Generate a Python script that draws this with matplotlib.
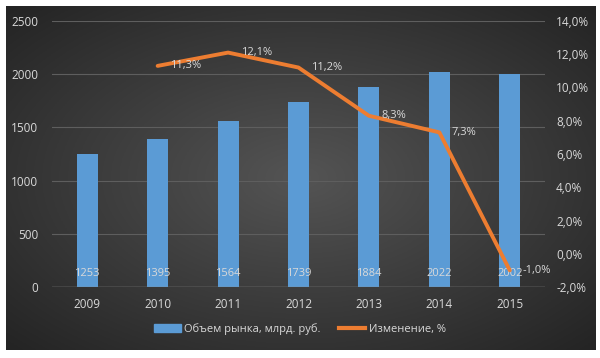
import numpy as np
import matplotlib
matplotlib.use("Agg")
import matplotlib.pyplot as plt
from matplotlib.lines import Line2D
from matplotlib.patches import Patch

years = ["2009", "2010", "2011", "2012", "2013", "2014", "2015"]
volume = [1253, 1395, 1564, 1739, 1884, 2022, 2002]
change_years = ["2010", "2011", "2012", "2013", "2014", "2015"]
change = [11.3, 12.1, 11.2, 8.3, 7.3, -1.0]

bar_label = "Объем рынка, млрд. руб."
line_label = "Изменение, %"

plt.rcParams['font.family'] = ['Open Sans', 'DejaVu Sans']
txt = "#d9d9d9"
bar_c = "#5b9bd5"
line_c = "#ed7d31"

fig = plt.figure(figsize=(6, 3.58), dpi=100)
fig.patch.set_facecolor("white")

# background chart area with radial gradient
bg = fig.add_axes([6/600, 8/358, 590/600, 344/358])
yy, xx = np.mgrid[-1:1:200j, -1:1:300j]
r = np.sqrt(xx**2 + yy**2) / np.sqrt(2)
v = 0.33 - 0.19 * r
img = np.dstack([v, v, v])
bg.imshow(img, aspect="auto", extent=[0, 1, 0, 1])
bg.set_axis_off()

ax = fig.add_axes([52/600, 1-287/358, 493/600, 266/358])
ax.set_facecolor("none")
x = np.arange(len(years))
bars = ax.bar(x, volume, width=0.3, color=bar_c, zorder=2)
ax.set_ylim(0, 2500)
ax.set_xlim(-0.5, len(years) - 0.5)
ax.set_yticks(range(0, 2501, 500))
ax.set_xticks(x)
ax.set_xticklabels(years)
ax.grid(axis="y", color="#5e5e5e", linewidth=0.8, zorder=0)
for s in ax.spines.values():
    s.set_visible(False)
ax.axhline(0, color="#8c8c8c", linewidth=1.0, zorder=3)
ax.tick_params(length=0, colors=txt, labelsize=8.5, pad=10)
ax.tick_params(axis="x", pad=8)
for xi, val in zip(x, volume):
    ax.annotate(str(val), (xi, 0), xytext=(0, 10), textcoords="offset points",
                ha="center", va="center", color=txt, fontsize=8, zorder=4)

ax2 = ax.twinx()
ax2.set_ylim(-2, 14)
ax2.set_yticks(range(-2, 15, 2))
ax2.set_yticklabels([f"{t:.1f}%".replace(".", ",") for t in range(-2, 15, 2)])
for s in ax2.spines.values():
    s.set_visible(False)
ax2.tick_params(length=0, colors=txt, labelsize=8.5, pad=8)
cx = [years.index(y) for y in change_years]
ax2.plot(cx, change, color=line_c, linewidth=2.8, solid_joinstyle="round",
         solid_capstyle="round", zorder=5)
for xi, val in zip(cx, change):
    ax2.annotate(f"{val:.1f}%".replace(".", ","), (xi, val), xytext=(9, 0),
                 textcoords="offset points", ha="left", va="center",
                 color=txt, fontsize=8, zorder=6)

handles = [Patch(color=bar_c), Line2D([0], [0], color=line_c, linewidth=3)]
leg = fig.legend(handles, [bar_label, line_label], loc="center",
                 bbox_to_anchor=(0.5, 1-329/358), ncol=2, frameon=False,
                 fontsize=8, labelcolor=txt, handlelength=2.4, handleheight=0.6,
                 columnspacing=1.6, handletextpad=0.3)

fig.savefig("out.png", dpi=100, facecolor="white")
